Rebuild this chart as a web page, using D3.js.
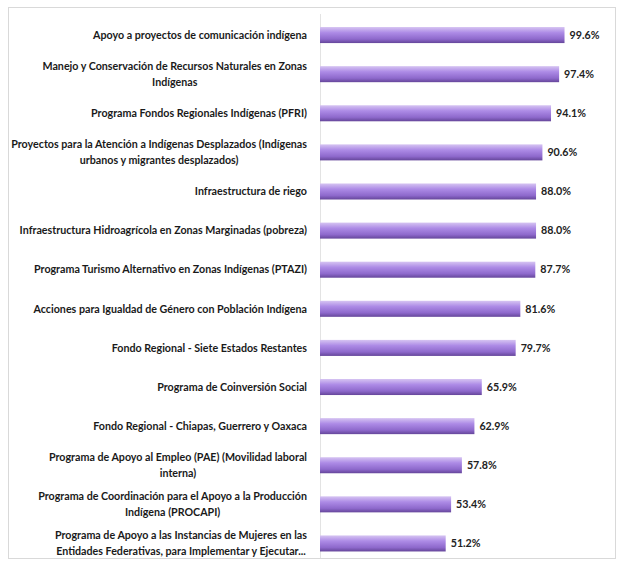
<!DOCTYPE html>
<html>
<head>
<meta charset="utf-8">
<script src="https://cdn.jsdelivr.net/npm/d3@7"></script>
<style>
  html, body { margin: 0; padding: 0; background: #ffffff; }
  svg { display: block; }
  text { font-family: Lato, "Open Sans", sans-serif; font-weight: bold; }
</style>
</head>
<body>
<div id="chart"></div>
<script>
const categories = [
  "Apoyo a proyectos de comunicación indígena",
  "Manejo y Conservación de Recursos Naturales en Zonas\nIndígenas",
  "Programa Fondos Regionales Indígenas (PFRI)",
  "Proyectos para la Atención a Indígenas Desplazados (Indígenas\nurbanos y migrantes desplazados)",
  "Infraestructura de riego ",
  "Infraestructura Hidroagrícola en Zonas Marginadas (pobreza)",
  "Programa Turismo Alternativo en Zonas Indígenas (PTAZI)",
  "Acciones para Igualdad de Género con Población Indígena",
  "Fondo Regional - Siete Estados Restantes",
  "Programa de Coinversión Social ",
  "Fondo Regional - Chiapas, Guerrero y Oaxaca",
  "Programa de Apoyo al Empleo (PAE) (Movilidad laboral\ninterna)",
  "Programa de Coordinación para el Apoyo a la Producción\nIndígena (PROCAPI)",
  "Programa de Apoyo a las Instancias de Mujeres en las\nEntidades Federativas, para Implementar y Ejecutar..."
];
const values = [99.6, 97.4, 94.1, 90.6, 88.0, 88.0, 87.7, 81.6, 79.7, 65.9, 62.9, 57.8, 53.4, 51.2];
const valueLabels = ["99.6%", "97.4%", "94.1%", "90.6%", "88.0%", "88.0%", "87.7%", "81.6%", "79.7%", "65.9%", "62.9%", "57.8%", "53.4%", "51.2%"];

const W = 618, H = 562;
const svg = d3.select("#chart").append("svg").attr("width", W).attr("height", H);

// frame
svg.append("rect").attr("x", 8.5).attr("y", 7.5).attr("width", 607).attr("height", 551)
  .attr("fill", "#fff").attr("stroke", "#d9d9d9").attr("stroke-width", 1);

const defs = svg.append("defs");
const grad = defs.append("linearGradient").attr("id", "barGrad")
  .attr("x1", 0).attr("y1", 0).attr("x2", 0).attr("y2", 1);
grad.append("stop").attr("offset", "0%").attr("stop-color", "#d6c4f2");
grad.append("stop").attr("offset", "35%").attr("stop-color", "#ad8be6");
grad.append("stop").attr("offset", "75%").attr("stop-color", "#8e69cc");
grad.append("stop").attr("offset", "100%").attr("stop-color", "#65469a");

const x = d3.scaleLinear().domain([0, 100]).range([320, 565.5]);
const y = d3.scaleBand().domain(categories).range([15.5, 563]).paddingInner(0.59).paddingOuter(0.295);

// axis line
svg.append("line").attr("x1", 320.5).attr("x2", 320.5).attr("y1", 14).attr("y2", 558)
  .attr("stroke", "#e3e3e3").attr("stroke-width", 1);

const data = categories.map((c, i) => ({ c, v: values[i], l: valueLabels[i] }));

svg.selectAll("rect.bar").data(data).join("rect").attr("class", "bar")
  .attr("x", x(0)).attr("y", d => y(d.c))
  .attr("width", d => x(d.v) - x(0)).attr("height", y.bandwidth())
  .attr("fill", "url(#barGrad)");

const fs = 10.7;
svg.selectAll("text.val").data(data).join("text").attr("class", "val")
  .attr("x", d => x(d.v) + 5).attr("y", d => y(d.c) + y.bandwidth() / 2)
  .attr("dy", "0.35em").attr("font-size", fs).attr("fill", "#222")
  .text(d => d.l);

const labelRight = 307;
const lineGap = 15.5;
data.forEach(d => {
  const lines = d.c.split("\n");
  const cy = y(d.c) + y.bandwidth() / 2;
  const g = svg.append("g");
  const ts = lines.map((ln, k) => g.append("text")
    .attr("y", cy + (k - (lines.length - 1) / 2) * lineGap)
    .attr("dy", "0.35em").attr("font-size", fs).attr("fill", "#1a1a1a")
    .attr("text-anchor", "middle").text(ln));
  const maxW = d3.max(ts, t => t.node().getComputedTextLength());
  ts.forEach(t => t.attr("x", labelRight - maxW / 2));
});
</script>
</body>
</html>
